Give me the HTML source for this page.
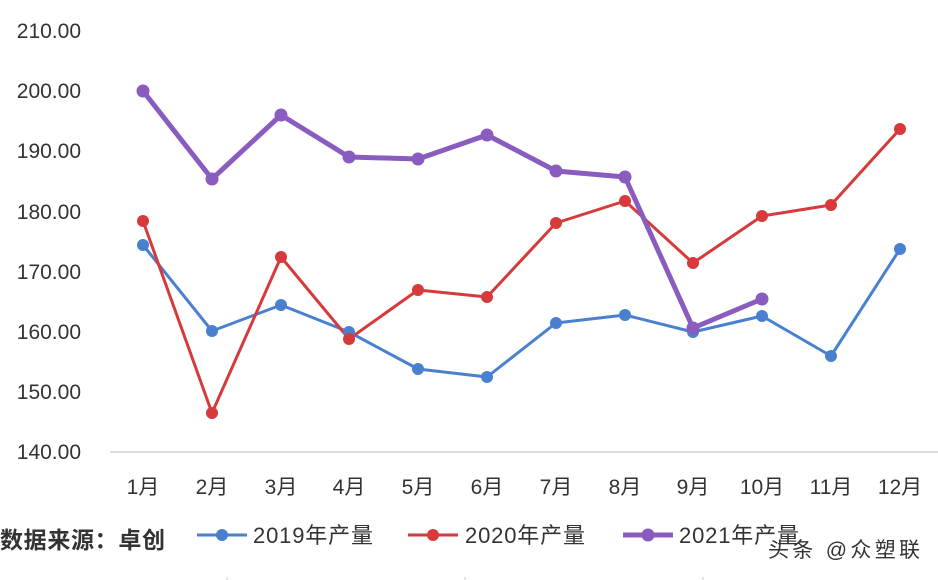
<!DOCTYPE html>
<html><head><meta charset="utf-8"><style>
html,body{margin:0;padding:0;background:#fff;}
svg{display:block;}
text{font-family:"Liberation Sans","Noto Sans CJK SC",sans-serif;fill:#333;}
</style></head><body>
<svg width="938" height="580" viewBox="0 0 938 580" xmlns="http://www.w3.org/2000/svg">
<rect width="938" height="580" fill="#fff"/>
<line x1="110" y1="452" x2="938" y2="452" stroke="#d0d0d0" stroke-width="1.5"/>
<g font-size="21" text-anchor="end">
<text x="81" y="38">210.00</text>
<text x="81" y="98">200.00</text>
<text x="81" y="158">190.00</text>
<text x="81" y="219">180.00</text>
<text x="81" y="279">170.00</text>
<text x="81" y="339">160.00</text>
<text x="81" y="399">150.00</text>
<text x="81" y="459">140.00</text>
</g>
<g font-size="21" text-anchor="middle">
<text x="143" y="494">1月</text><text x="212" y="494">2月</text><text x="281" y="494">3月</text>
<text x="349" y="494">4月</text><text x="418" y="494">5月</text><text x="487" y="494">6月</text>
<text x="556" y="494">7月</text><text x="625" y="494">8月</text><text x="693" y="494">9月</text>
<text x="762" y="494">10月</text><text x="831" y="494">11月</text><text x="900" y="494">12月</text>
</g>
<g fill="none" stroke-linejoin="round">
<polyline stroke="#4a80d0" stroke-width="3" points="143,245 212,331 281,305 349,332 418,369 487,377 556,323 625,315 693,332 762,316 831,356 900,249"/>
<polyline stroke="#d63a3a" stroke-width="3" points="143,221 212,413 281,257 349,339 418,290 487,297 556,223 625,201 693,263 762,216 831,205 900,129"/>
<polyline stroke="#8a5cc0" stroke-width="5" points="143,91 212,179 281,115 349,157 418,159 487,135 556,171 625,177 693,328 762,299"/>
</g>
<g fill="#4a80d0">
<circle cx="143" cy="245" r="6"/><circle cx="212" cy="331" r="6"/><circle cx="281" cy="305" r="6"/><circle cx="349" cy="332" r="6"/><circle cx="418" cy="369" r="6"/><circle cx="487" cy="377" r="6"/><circle cx="556" cy="323" r="6"/><circle cx="625" cy="315" r="6"/><circle cx="693" cy="332" r="6"/><circle cx="762" cy="316" r="6"/><circle cx="831" cy="356" r="6"/><circle cx="900" cy="249" r="6"/>
</g>
<g fill="#d63a3a">
<circle cx="143" cy="221" r="6"/><circle cx="212" cy="413" r="6"/><circle cx="281" cy="257" r="6"/><circle cx="349" cy="339" r="6"/><circle cx="418" cy="290" r="6"/><circle cx="487" cy="297" r="6"/><circle cx="556" cy="223" r="6"/><circle cx="625" cy="201" r="6"/><circle cx="693" cy="263" r="6"/><circle cx="762" cy="216" r="6"/><circle cx="831" cy="205" r="6"/><circle cx="900" cy="129" r="6"/>
</g>
<g fill="#8a5cc0">
<circle cx="143" cy="91" r="6.5"/><circle cx="212" cy="179" r="6.5"/><circle cx="281" cy="115" r="6.5"/><circle cx="349" cy="157" r="6.5"/><circle cx="418" cy="159" r="6.5"/><circle cx="487" cy="135" r="6.5"/><circle cx="556" cy="171" r="6.5"/><circle cx="625" cy="177" r="6.5"/><circle cx="693" cy="328" r="6.5"/><circle cx="762" cy="299" r="6.5"/>
</g>
<text x="0" y="548" font-size="23" font-weight="bold" fill="#111" textLength="165">数据来源：卓创</text>
<line x1="197" y1="535" x2="247" y2="535" stroke="#4a80d0" stroke-width="3"/><circle cx="222" cy="535" r="6" fill="#4a80d0"/>
<text x="253" y="543" font-size="22" textLength="120">2019年产量</text>
<line x1="408" y1="535" x2="458" y2="535" stroke="#d63a3a" stroke-width="3"/><circle cx="433" cy="535" r="6" fill="#d63a3a"/>
<text x="465" y="543" font-size="22" textLength="120">2020年产量</text>
<line x1="623" y1="535" x2="673" y2="535" stroke="#8a5cc0" stroke-width="5"/><circle cx="648" cy="535" r="6.5" fill="#8a5cc0"/>
<text x="679" y="543" font-size="22" textLength="120">2021年产量</text>
<text x="768" y="557" font-size="21" fill="#444" textLength="152">头条 @众塑联</text>
<line x1="227" y1="577" x2="227" y2="580" stroke="#ccc"/>
<line x1="465" y1="577" x2="465" y2="580" stroke="#ccc"/>
<line x1="703" y1="577" x2="703" y2="580" stroke="#ccc"/>
</svg>
</body></html>
